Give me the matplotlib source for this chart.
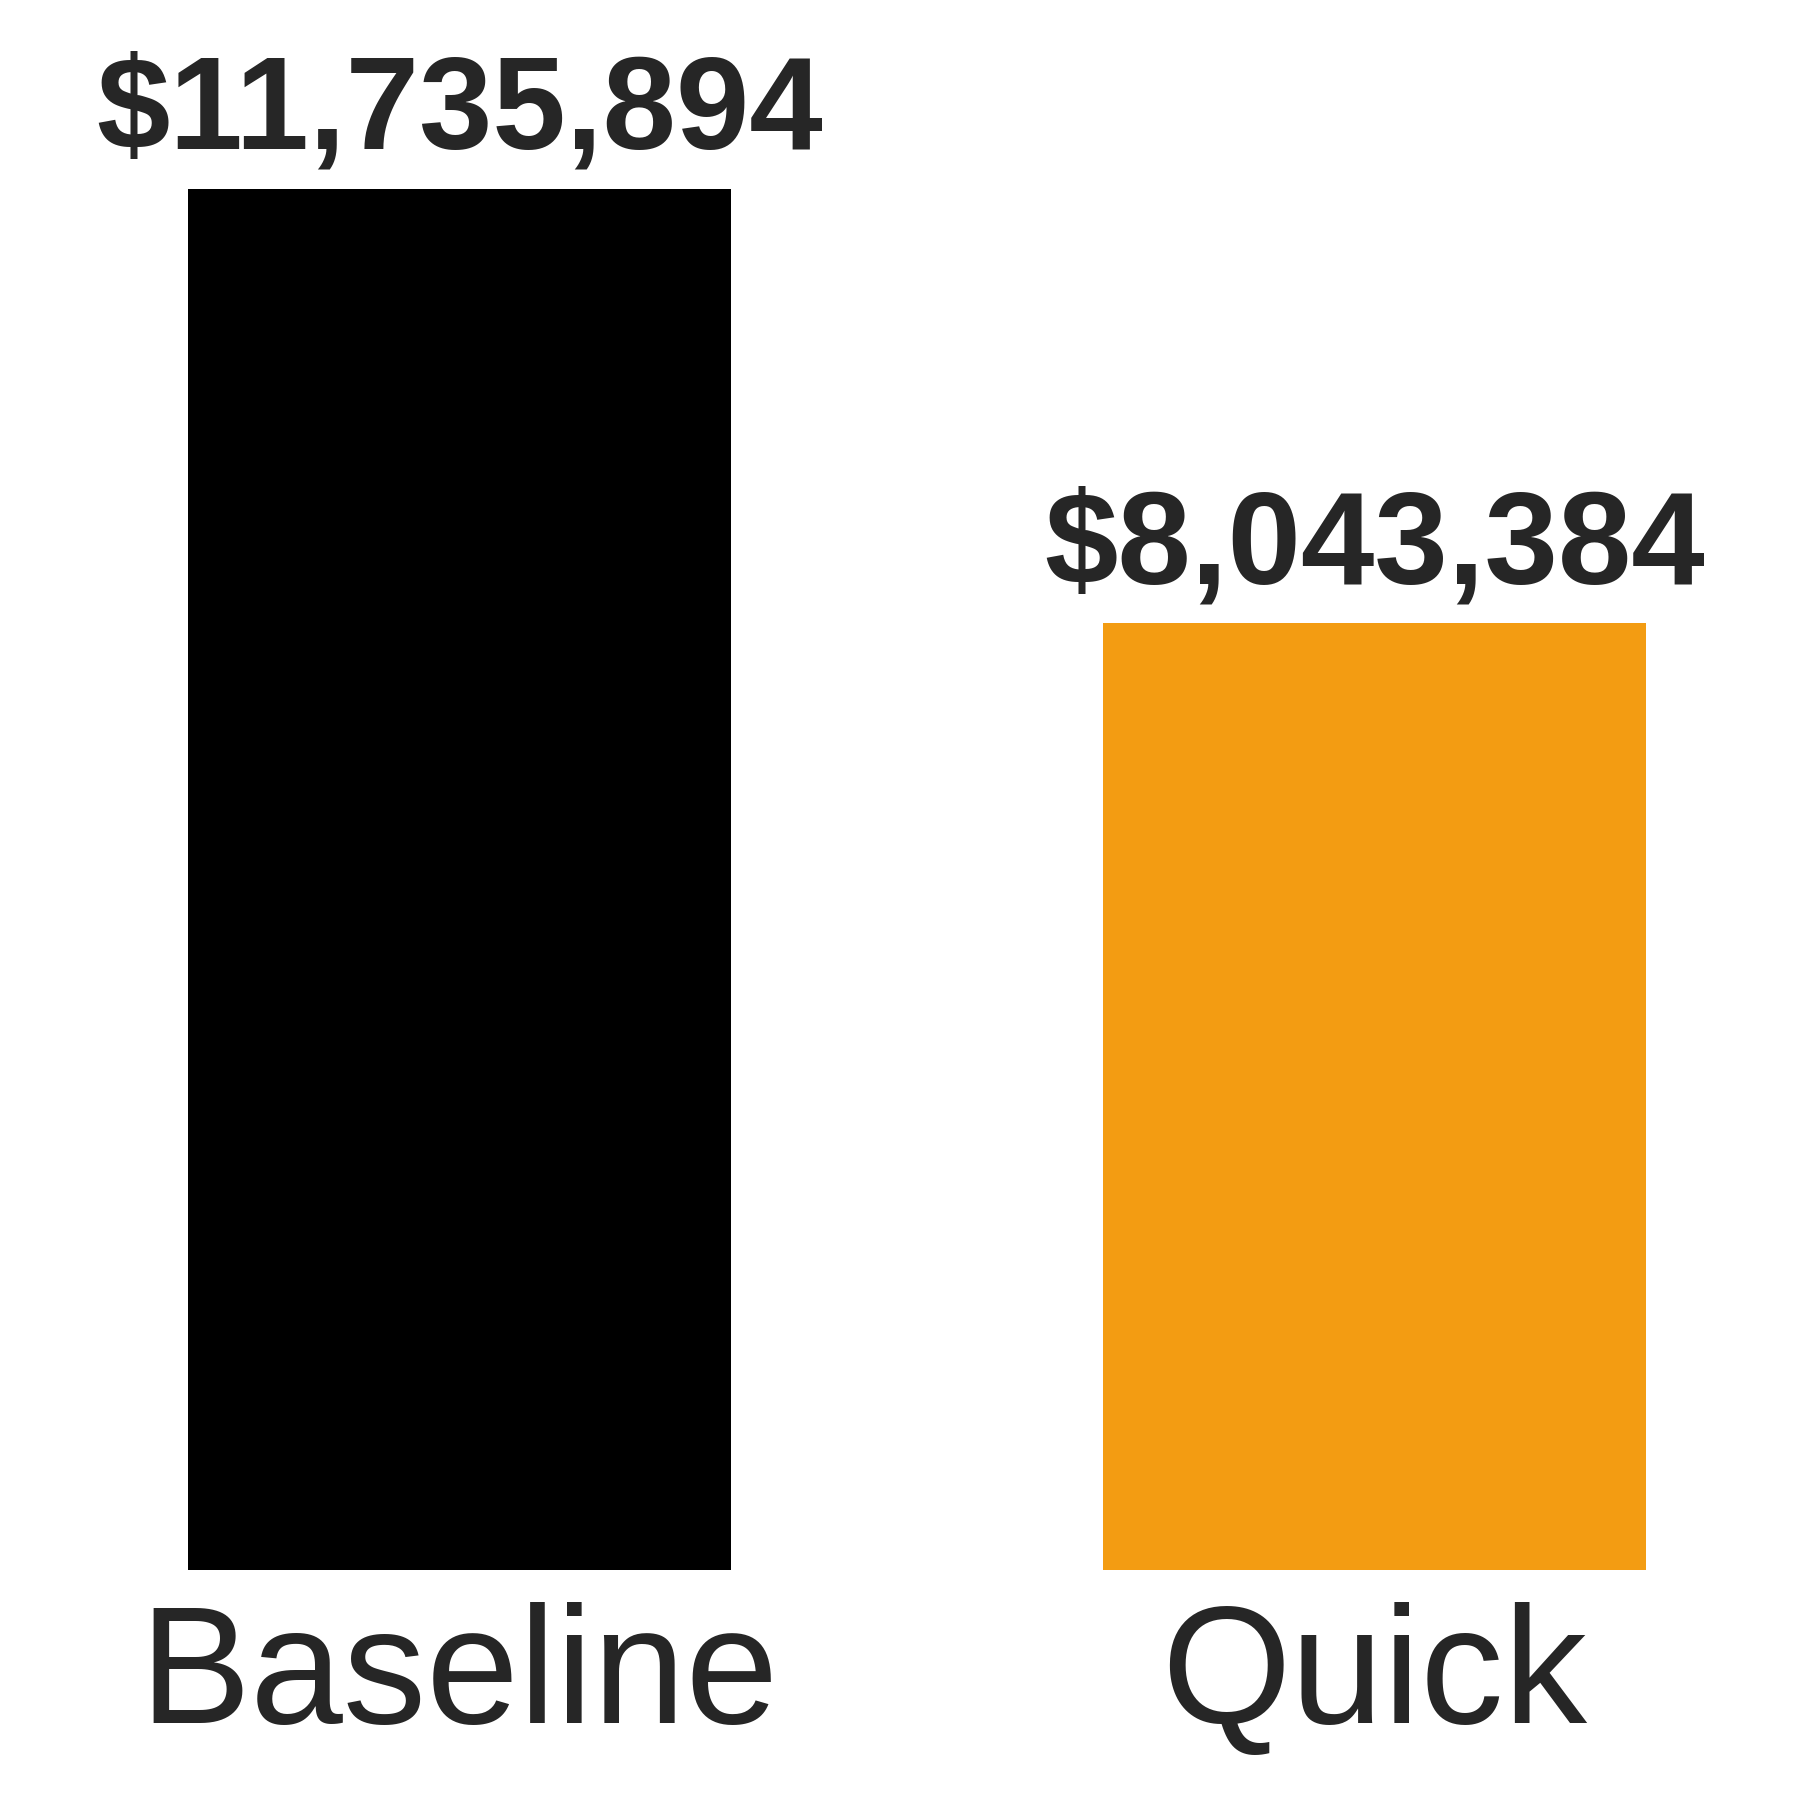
import matplotlib.pyplot as plt

categories = ["Baseline", "Quick"]
values = [11735894, 8043384]
colors = ["#000000", "#F39C12"]

plt.rcParams['font.family'] = ['Liberation Sans', 'DejaVu Sans']

fig = plt.figure(figsize=(18, 18), dpi=100)
ax = fig.add_axes([0.0, 0.1278, 1.0, 0.8722])

x = list(range(len(categories)))
ax.bar(x, values, width=0.594, color=colors, edgecolor="none")

# axis scale chosen so bars land where the reference puts them
ax.set_xlim(-0.502, 1.465)
ax.set_ylim(0, values[0] * 1570 / 1381)

for xi, v in zip(x, values):
    ax.annotate(f"${v:,.0f}", (xi, v), xytext=(0, 29), textcoords="offset points",
                ha="center", va="baseline", fontsize=95, fontweight="bold",
                color="#262626")

ax.set_xticks(x)
ax.set_xticklabels(categories, fontsize=120, color="#262626")
ax.tick_params(axis="x", length=0, pad=23)
ax.set_yticks([])
for s in ax.spines.values():
    s.set_visible(False)

fig.savefig("out.png", dpi=100)
